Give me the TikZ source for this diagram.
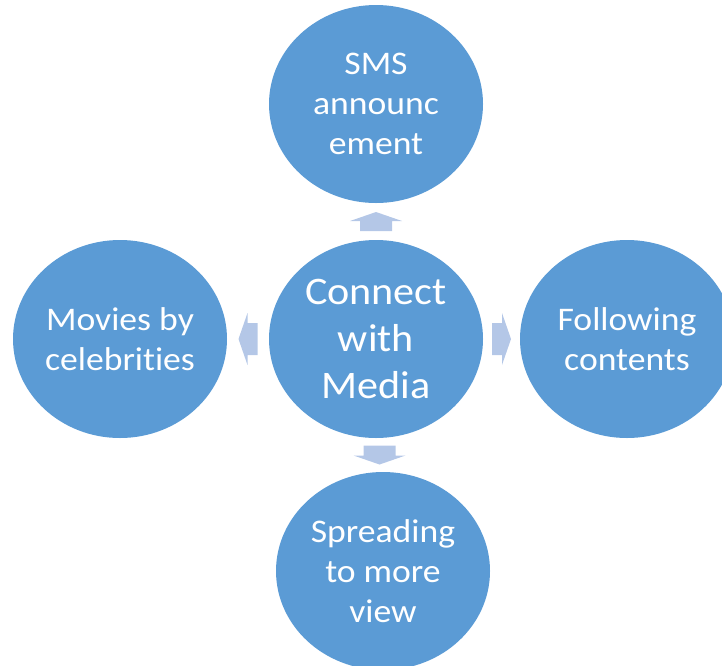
\documentclass[tikz,border=0pt]{standalone}
\usepackage{fontspec}
\setmainfont{Carlito}[FakeStretch=1.08, Ligatures=NoCommon]
\usetikzlibrary{shapes.geometric,calc}
\definecolor{circblue}{HTML}{5B9BD5}
\definecolor{arrowblue}{HTML}{B4C7E7}
\tikzset{
  x=1pt, y=1pt,
  bubble/.style={ellipse, fill=circblue, draw=none, minimum width=214pt, minimum height=198pt,
    inner sep=0pt, text=white, align=center, font=\fontsize{33}{40}\selectfont},
  hubbubble/.style={bubble, font=\fontsize{39}{47}\selectfont},
  blockarrow/.pic={\fill[arrowblue] (-9.5,-16) -- (0.5,-16) -- (0.5,-26) -- (9.5,0) -- (0.5,26) -- (0.5,16) -- (-9.5,16) -- cycle;}
}
\begin{document}
\begin{tikzpicture}
\useasboundingbox (0,0) rectangle (722,-665);
\clip (0,0) rectangle (722,-665);
\node[hubbubble] (c) at (376,-339) {Connect\\with\\Media};
\node[bubble] (t) at (376,-104) {SMS\\announc\\ement};
\node[bubble] (l) at (120,-339) {Movies by\\celebrities};
\node[bubble] (r) at (627,-339) {Following\\contents};
\node[bubble] (b) at (383,-571) {Spreading\\to more\\view};
\pic[rotate=90] at ($(c)!0.5!(t)$) {blockarrow};
\pic[rotate=180] at ($(c)!0.5!(l)$) {blockarrow};
\pic at ($(c)!0.5!(r)$) {blockarrow};
\pic[rotate=-90] at ($(c)!0.5!(b)$) {blockarrow};
\end{tikzpicture}
\end{document}
